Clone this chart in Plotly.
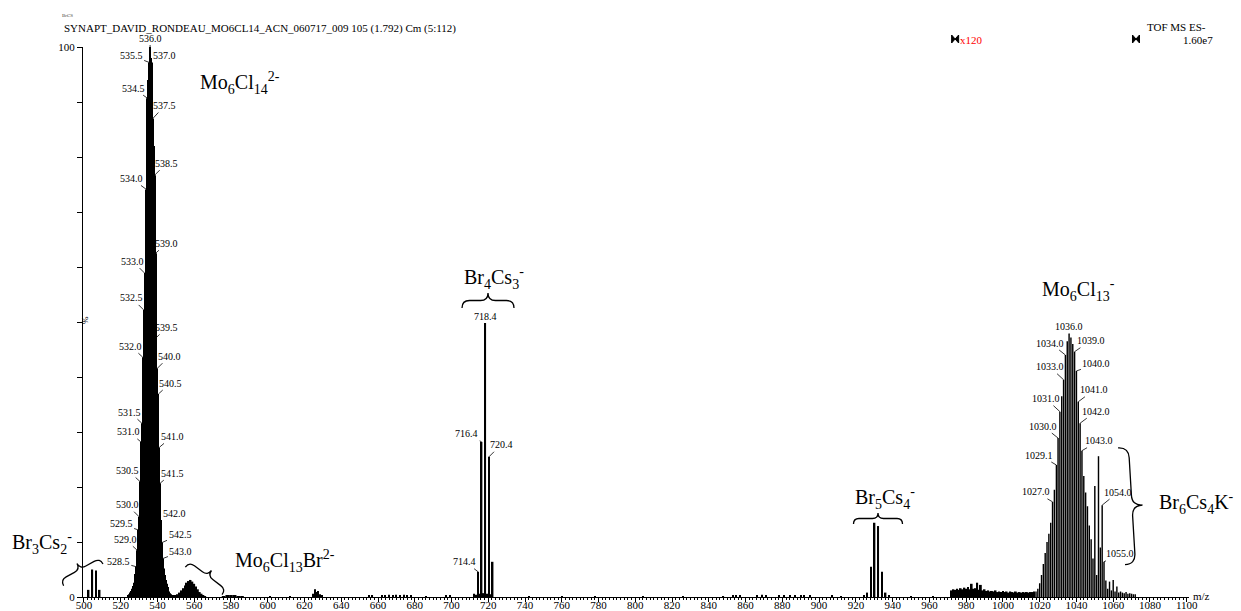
import math
import plotly.graph_objects as go

# ---------------- data ----------------
# Mo6Cl14(2-) isotope envelope, profile sampled every 0.5 m/z
mo6cl14_mz = [524.0, 524.5, 525.0, 525.5, 526.0, 526.5, 527.0, 527.5, 528.0, 528.5,
              529.0, 529.5, 530.0, 530.5, 531.0, 531.5, 532.0, 532.5, 533.0, 533.5,
              534.0, 534.5, 535.0, 535.5, 536.0, 536.5, 537.0, 537.5, 538.0, 538.5,
              539.0, 539.5, 540.0, 540.5, 541.0, 541.5, 542.0, 542.5, 543.0, 543.5,
              544.0, 544.5, 545.0, 545.5, 546.0, 546.5, 547.0, 547.5, 548.0, 548.5, 549.0]
mo6cl14_int = [0.3, 0.5, 0.8, 1.1, 1.5, 2.0, 2.6, 3.3, 4.2, 5.5,
               8.5, 12.2, 14.6, 21.0, 28.2, 31.6, 43.6, 52.2, 58.9, 66.0,
               74.1, 90.7, 94.0, 97.2, 100.0, 98.0, 97.2, 87.0, 82.0, 76.7,
               62.5, 47.2, 41.6, 36.9, 27.2, 20.7, 14.0, 9.9, 7.0, 5.2,
               4.0, 3.1, 2.4, 1.8, 1.3, 1.0, 0.7, 0.5, 0.3, 0.2, 0.1]

# Mo6Cl13Br(2-) small envelope
mo6cl13br_mz = [550, 551, 552, 553, 554, 555, 556, 557, 558, 559, 560, 561, 562, 563, 564, 565, 566]
mo6cl13br_int = [0.2, 0.5, 0.8, 1.2, 1.6, 2.1, 2.6, 2.9, 3.1, 2.8, 2.4, 1.9, 1.4, 0.9, 0.6, 0.3, 0.15]

# tiny hump near 580
hump_mz = [576, 578, 580, 582, 584, 586]
hump_int = [0.1, 0.2, 0.25, 0.2, 0.15, 0.1]

# Br/Cs cluster ions (Br3Cs2-, Br4Cs3-, Br5Cs4-)
br_mz = [502.6, 504.6, 506.6, 508.6,
         714.4, 716.4, 718.4, 720.4, 722.4,
         926.2, 928.2, 930.2, 932.2, 934.2, 936.2]
br_int = [1.3, 5.0, 4.8, 1.3,
          4.6, 28.2, 49.8, 25.5, 6.4,
          0.8, 5.5, 13.5, 12.9, 4.6, 0.8]

# small baseline peaks
noise_mz = [601.5, 612.0, 624.5, 625.5, 626.5, 627.5, 628.5, 629.5,
            655.0, 657.0, 662.0, 664.0, 666.0, 668.0, 670.0, 672.0, 674.0, 676.0,
            678.0, 686.0, 697.0, 699.0,
            712.4, 713.4, 715.4, 717.4, 719.4, 721.4,
            742.0, 760.0, 778.0, 804.0, 826.0, 848.0,
            853.0, 855.0, 857.0, 866.0, 869.0, 871.0,
            878.0, 881.0, 884.0, 887.0, 890.0, 892.0, 895.0,
            907.0, 912.0, 924.2, 938.2, 950.0, 962.0]
noise_int = [0.1, 0.1, 0.6, 1.4, 0.9, 1.1, 0.5, 0.3,
             0.3, 0.2, 0.3, 0.3, 0.4, 0.3, 0.4, 0.3, 0.4, 0.3,
             0.2, 0.15, 0.3, 0.3,
             0.6, 0.4, 0.6, 0.7, 0.6, 0.5,
             0.1, 0.1, 0.15, 0.1, 0.15, 0.15,
             0.3, 0.3, 0.25, 0.3, 0.4, 0.3,
             0.3, 0.3, 0.35, 0.3, 0.3, 0.35, 0.2,
             0.2, 0.15, 0.3, 0.25, 0.1, 0.1]

# x120 magnified region: raised noisy baseline
band_mz = [972, 973, 974, 975, 976, 977, 978, 979, 980, 981,
           982, 983, 984, 985, 986, 987, 988, 989, 990, 991,
           992, 993, 994, 995, 996, 997, 998, 999, 1000, 1001,
           1002, 1003, 1004, 1005, 1006, 1007, 1008, 1009, 1010, 1011,
           1012, 1013, 1014, 1015, 1016, 1017]
band_int = [1.2, 1.4, 1.3, 1.5, 1.3, 1.6, 1.4, 1.7, 1.5, 1.8,
            1.4, 2.4, 1.5, 1.6, 2.6, 1.3, 2.2, 1.2, 1.4, 1.1,
            1.2, 1.0, 1.1, 1.0, 1.2, 0.9, 1.0, 0.9, 1.1, 0.9,
            1.0, 0.8, 1.0, 0.9, 0.8, 1.0, 0.8, 0.9, 0.8, 0.9,
            0.8, 0.9, 0.8, 0.9, 0.9, 1.0]

# Mo6Cl13(-) and Br6Cs4K(-) (x120)
mo6cl13_mz = [1018, 1019, 1020, 1021, 1022, 1023, 1024, 1025, 1026, 1027.0,
              1028, 1029.1, 1030.0, 1031.0, 1032, 1033.0, 1034.0, 1035, 1036.0, 1037,
              1038, 1039.0, 1040.0, 1041.0, 1042.0, 1043.0, 1044, 1045, 1046, 1047,
              1048, 1049, 1050, 1051, 1052, 1053, 1054.0, 1055.0, 1056, 1057,
              1058, 1059, 1060, 1061, 1062, 1063, 1064, 1065, 1066, 1067,
              1068, 1069, 1070, 1071, 1072]
mo6cl13_int = [1.0, 1.5, 2.5, 4.0, 6.0, 8.0, 10.0, 11.5, 13.5, 17.3,
               19.5, 24.0, 28.9, 33.7, 36.5, 39.5, 44.0, 46.5, 47.8, 47.2,
               46.0, 44.6, 41.1, 35.5, 31.6, 26.6, 22.0, 19.0, 16.5, 13.0,
               10.5, 7.0, 20.2, 4.0, 25.6, 9.0, 16.7, 6.4, 3.0, 1.5,
               2.8, 1.2, 3.1, 1.0, 1.9, 0.8, 1.0, 0.8, 0.7, 0.9,
               0.6, 0.7, 0.6, 0.5, 0.5]

# labelled peaks: m/z, label offset dx, dy (pixels)
peak_labels = [
    (528.5, -18, -5), (529.0, -12, -11), (529.5, -17, -6), (530.0, -12, -12),
    (530.5, -12, -11), (531.0, -12, -10), (531.5, -12, -11), (532.0, -12, -11),
    (532.5, -12, -12), (533.0, -12, -12), (534.0, -15, -11), (534.5, -14, -10),
    (535.5, -18, -7), (536.0, 0, -9), (537.0, 13, -7), (537.5, 12, -13),
    (538.5, 12, -12), (539.0, 11, -10), (539.5, 10, -10), (540.0, 12, -12),
    (540.5, 12, -11), (541.0, 13, -11), (541.5, 12, -10), (542.0, 13, -7),
    (542.5, 18, -8), (543.0, 18, -7),
    (714.4, -13, -10), (716.4, -15, -8), (718.4, 0, -7), (720.4, 12, -12),
    (1027.0, -17, -10), (1029.1, -17, -10), (1030.0, -15, -12), (1031.0, -14, -13),
    (1033.0, -14, -13), (1034.0, -15, -12), (1036.0, 0, -8), (1039.0, 16, -11),
    (1040.0, 20, -7), (1041.0, 16, -12), (1042.0, 16, -12), (1043.0, 17, -10),
    (1054.0, 16, -13), (1055.0, 16, -8),
]

x120_region = [974.0, 1072.4]

# ---------------- layout geometry ----------------
W, H = 1241, 611
L, R, T, B = 83, 52, 47, 14
PW, PH = W - L - R, H - T - B
XMIN = 499.5
XMAX = XMIN + PW / 1.838
FONT = "Liberation Serif"


def pxx(xp):
    return (xp - L) / PW


def pxy(yp):
    return (H - B - yp) / PH


fig = go.Figure()


def add_bars(mz, inten, width, color="black"):
    fig.add_trace(go.Bar(x=mz, y=inten, width=width,
                         marker=dict(color=color, line=dict(width=0)),
                         showlegend=False, hoverinfo="x+y"))


add_bars(mo6cl14_mz, mo6cl14_int, 0.5)
add_bars(mo6cl13br_mz, mo6cl13br_int, 1.0)
add_bars(hump_mz, hump_int, 2.0)
add_bars(noise_mz, noise_int, 0.6)
add_bars(br_mz, br_int, 0.8)
add_bars(band_mz, band_int, 1.0)
add_bars(mo6cl13_mz, mo6cl13_int, 0.78, color="rgba(0,0,0,0.999)")

# x120 region markers (small bow-ties above the frame)
for xm in x120_region:
    fig.add_shape(type="path", xref="x", yref="paper",
                  xsizemode="pixel", ysizemode="pixel",
                  xanchor=xm, yanchor=pxy(39),
                  path="M -3.5,4 L 0,0 L -3.5,-4 Z M 3.5,4 L 0,0 L 3.5,-4 Z",
                  fillcolor="black", line=dict(color="black", width=1))

# peak labels
lookup = {}
for mzs, ints in [(mo6cl14_mz, mo6cl14_int), (br_mz, br_int), (mo6cl13_mz, mo6cl13_int)]:
    for m, v in zip(mzs, ints):
        lookup[m] = v

for m, dx, dy in peak_labels:
    fig.add_annotation(x=m, y=lookup[m], text=f"{m:.1f}", showarrow=True,
                       ax=dx, ay=dy, arrowhead=0, arrowwidth=0.8, arrowcolor="black",
                       standoff=0, startstandoff=0,
                       font=dict(family=FONT, size=10, color="black"))

# big ion labels (pixel positions converted to paper)
ion_labels = [
    ("Mo<sub>6</sub>Cl<sub>14</sub><sup>2-</sup>", 198, 83),
    ("Br<sub>3</sub>Cs<sub>2</sub><sup>-</sup>", 10, 543),
    ("Mo<sub>6</sub>Cl<sub>13</sub>Br<sup>2-</sup>", 233, 561),
    ("Br<sub>4</sub>Cs<sub>3</sub><sup>-</sup>", 462, 278),
    ("Br<sub>5</sub>Cs<sub>4</sub><sup>-</sup>", 853, 498),
    ("Mo<sub>6</sub>Cl<sub>13</sub><sup>-</sup>", 1040, 290),
    ("Br<sub>6</sub>Cs<sub>4</sub>K<sup>-</sup>", 1157, 503),
]
for txt, xp, yp in ion_labels:
    fig.add_annotation(x=pxx(xp), y=pxy(yp), xref="paper", yref="paper",
                       xanchor="left", yanchor="middle", showarrow=False,
                       text=txt, font=dict(family=FONT, size=20, color="black"))


# curly braces
def brace(cx, cy, length, depth, angle):
    w, h = length / 2.0, depth
    th = math.radians(angle)
    c, s = math.cos(th), math.sin(th)

    def tp(u, v):
        X = cx + u * c - v * s
        Y = cy - (u * s + v * c)
        return f"{pxx(X):.5f},{pxy(Y):.5f}"

    return (f"M {tp(-w, -h)} Q {tp(-w, -h/2)} {tp(-w + h/2, -h/2)} "
            f"L {tp(-h/2, -h/2)} Q {tp(0, -h/2)} {tp(0, 0)} "
            f"Q {tp(0, -h/2)} {tp(h/2, -h/2)} L {tp(w - h/2, -h/2)} "
            f"Q {tp(w, -h/2)} {tp(w, -h)}")


for args in [(488, 293, 52, 15, 0), (878, 513, 49, 11, 0),
             (77, 563.5, 45, 13, 29), (211.5, 570.5, 46, 13, -37),
             (1142.5, 505, 117, 21, -86.6)]:
    fig.add_shape(type="path", path=brace(*args), xref="paper", yref="paper",
                  line=dict(color="black", width=1.3))

# header texts
hdr = [
    ("BrCS", 60, 16, "left", 5, "#444444"),
    ("SYNAPT_DAVID_RONDEAU_MO6CL14_ACN_060717_009 105 (1.792) Cm (5:112)", 62, 28, "left", 11, "black"),
    ("TOF MS ES-", 1208, 27, "right", 11, "black"),
    ("1.60e7", 1215, 40, "right", 11, "black"),
    ("x120", 958, 40, "left", 11, "#ff0000"),
    ("m/z", 1191, 596, "left", 11, "black"),
]
for txt, xp, yp, anc, sz, col in hdr:
    fig.add_annotation(x=pxx(xp), y=pxy(yp), xref="paper", yref="paper",
                       xanchor=anc, yanchor="middle", showarrow=False, text=txt,
                       font=dict(family=FONT, size=sz, color=col))

fig.add_annotation(x=pxx(78), y=pxy(320), xref="paper", yref="paper",
                   showarrow=False, text="%", textangle=-90,
                   font=dict(family=FONT, size=9, color="black"))

fig.update_layout(
    width=W, height=H,
    margin=dict(l=L, r=R, t=T, b=B, autoexpand=False),
    paper_bgcolor="white", plot_bgcolor="white",
    barmode="overlay", bargap=0.2,
    font=dict(family=FONT, size=11, color="black"),
    xaxis=dict(range=[XMIN, XMAX], tickmode="linear", tick0=500, dtick=20,
               ticks="outside", ticklen=4, tickwidth=1, tickcolor="black",
               ticklabelstandoff=-6,
               minor=dict(dtick=2, ticklen=2, ticks="outside", tickcolor="black", tickwidth=1),
               showline=True, linecolor="black", linewidth=1,
               showgrid=False, zeroline=False, automargin=False,
               tickfont=dict(family=FONT, size=11)),
    yaxis=dict(range=[0, 100], tickmode="array", tickvals=[0, 100],
               ticks="outside", ticklen=5, tickwidth=1, tickcolor="black",
               minor=dict(dtick=10, ticklen=5, ticks="outside", tickcolor="black", tickwidth=1),
               showline=True, linecolor="black", linewidth=1,
               showgrid=False, zeroline=False, automargin=False,
               tickfont=dict(family=FONT, size=11)),
)

fig.write_html("out.html",
               config={"displayModeBar": False},
               post_script="document.body.style.margin='0px';"
                           "document.body.style.overflow='hidden';")
